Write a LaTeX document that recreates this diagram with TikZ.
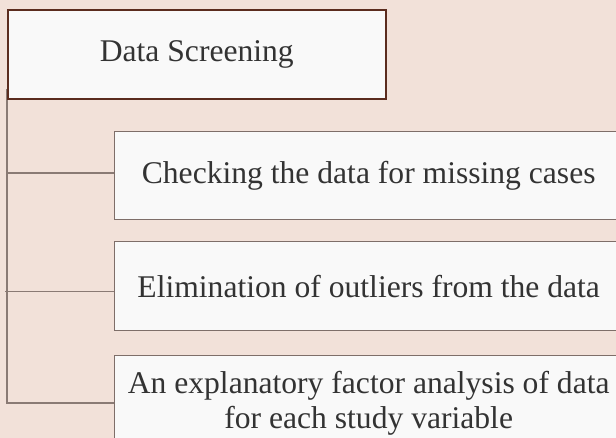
\documentclass[tikz,border=0pt]{standalone}
\usepackage{fontspec}
\setmainfont{Liberation Serif}
\usetikzlibrary{backgrounds}
\definecolor{bgpink}{HTML}{F2E1D9}
\definecolor{boxfill}{HTML}{F9F9F9}
\definecolor{headline}{HTML}{5B2C1E}
\definecolor{itemline}{HTML}{7E6E69}
\definecolor{linkline}{HTML}{8A7A74}
\definecolor{txt}{HTML}{333333}
\tikzset{
  basebox/.style={draw, fill=boxfill, anchor=north west, inner sep=0pt,
    text=txt, align=center, font=\fontsize{31.6}{35}\selectfont},
  headbox/.style={basebox, draw=headline, line width=1.6pt,
    minimum width=378pt, minimum height=89pt},
  itembox/.style={basebox, draw=itemline, line width=1.4pt,
    minimum width=508pt},
  link/.style={draw=linkline, line width=1.3pt}
}
\begin{document}
\begin{tikzpicture}[x=1pt, y=-1pt]
  \useasboundingbox (0,0) rectangle (616,438);
  \clip (0,0) rectangle (616,438);

  % parent step
  \node[headbox] (head) at (7,9) {Data Screening};

  % sub-steps
  \node[itembox, minimum height=88pt] (c1) at (114,131)
    {\raisebox{-2pt}{Checking the data for missing cases}};
  \node[itembox, minimum height=89pt] (c2) at (114,241)
    {Elimination of outliers from the data};
  \node[itembox, minimum height=96pt] (c3) at (114,355)
    {An explanatory factor analysis of data\\for each study variable};

  \begin{pgfonlayer}{background}
    \fill[bgpink] (0,0) rectangle (616,438);
    % tree connectors behind the boxes
    \coordinate (trunk) at ([yshift=11pt]head.south west);
    \draw[link] (trunk) |- ([yshift=-48pt]c3.north west);
    \draw[link] (trunk) |- ([yshift=-42pt]c1.north west);
    \draw[link] ([xshift=-2pt]trunk |- c2.west) ++(0,5.5)
      -- ([yshift=-5.5pt]c2.west);
  \end{pgfonlayer}
\end{tikzpicture}
\end{document}
